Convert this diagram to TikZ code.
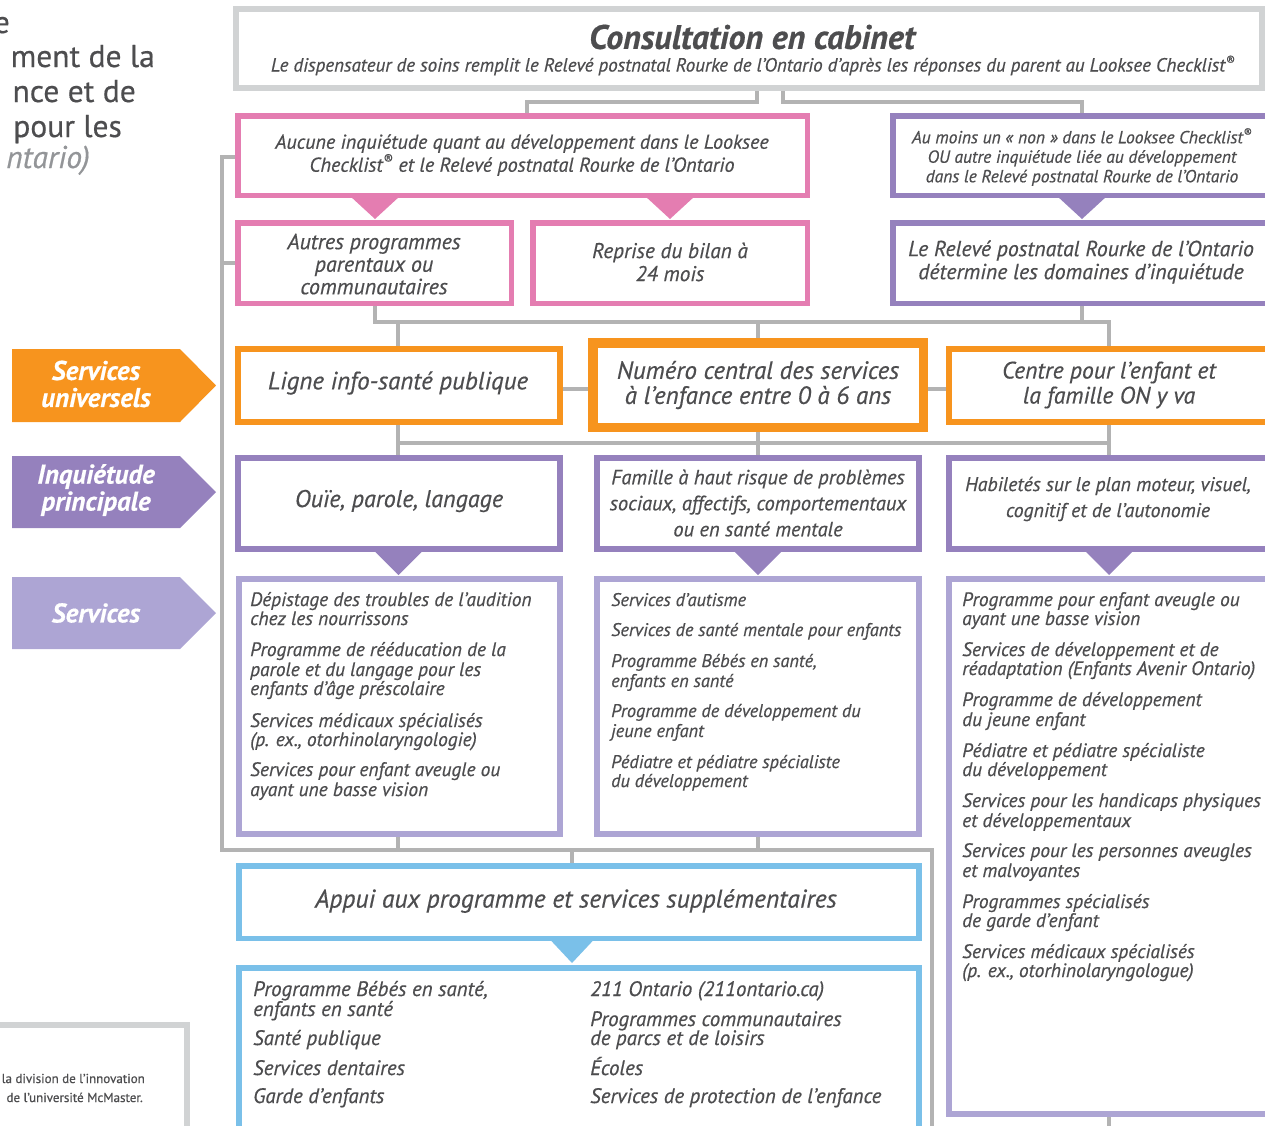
\documentclass[tikz,border=0pt]{standalone}
\usepackage{fontspec}
\setmainfont{PT Sans}[FakeBold=0.5]
\usetikzlibrary{calc}
\definecolor{txtc}{HTML}{4D4D4F}
\definecolor{pinkc}{HTML}{E47DB1}
\definecolor{purc}{HTML}{9581BD}
\definecolor{lpurc}{HTML}{ADA5D4}
\definecolor{orc}{HTML}{F7941E}
\definecolor{bluc}{HTML}{7AC0E9}
\definecolor{lineg}{HTML}{B3B3B3}
\definecolor{boxg}{HTML}{D1D3D4}
\definecolor{ltxt}{HTML}{939598}
\newcommand\myfs[2]{\fontsize{#1}{#2}\selectfont}
\tikzset{
  box/.style n args={2}{draw=#1, fill=white, rectangle, line width=#2pt, outer sep=#2pt/2, inner sep=0pt},
  conn/.style={draw=lineg, line width=3.5pt},
  tx/.style={text=txtc, align=center, inner sep=0pt},
  li/.style={text=txtc, anchor=mid west, inner sep=0pt, yshift=-3.5pt, font=\myfs{19.4}{21}\itshape},
  lab/.style={text=white, align=center, inner sep=0pt, font=\myfs{27}{27}\bfseries\itshape},
  big/.style={text=txtc, anchor=base east, inner sep=0pt, font=\myfs{31.5}{35}},
}
\begin{document}
\begin{tikzpicture}[x=1pt,y=-1pt]
\useasboundingbox (0,0) rectangle (1265,1125);
\clip (0,0) rectangle (1265,1125);

% top-left partial title
\node[big] (tl1) at (10,33) {e};
\node[big] (tl2) at (155,67) {ment de la};
\node[big] (tl3) at (136,102) {nce et de};
\node[big] (tl4) at (122,137) {pour les};
\node[big, text=ltxt, font=\myfs{31.5}{35}\itshape] (tl5) at (90,168) {ntario)};

% corner box
\node[box={boxg}{6}, minimum width=204pt, minimum height=112pt] (mcm) at (85,1081) {};
\node[text=txtc, anchor=base east, inner sep=0pt, font=\myfs{13}{14}] (mcm1) at (145,1083) {la division de l’innovation};
\node[text=txtc, anchor=base east, inner sep=0pt, font=\myfs{13}{14}] (mcm2) at (143,1102) {de l’université McMaster.};

% labels
\fill[orc] (12,349) -- (180,349) -- (216,385.5) -- (180,422) -- (12,422) -- cycle;
\node[lab] (lab1) at (96,384) {Services\\universels};
\fill[purc] (12,456) -- (180,456) -- (216,492) -- (180,528) -- (12,528) -- cycle;
\node[lab] (lab2) at (96,490) {Inquiétude\\principale};
\fill[lpurc] (12,577) -- (180,577) -- (216,613) -- (180,649) -- (12,649) -- cycle;
\node[lab] (lab3) at (96,613) {Services};

% boxes
\node[box={boxg}{6}, minimum width=1026pt, minimum height=79pt] (cons) at (749,48.5) {};
\node[box={pinkc}{5.5}, minimum width=569.5pt, minimum height=79.5pt] (pk1) at (522.5,155.5) {};
\node[box={pinkc}{5.5}, minimum width=273.5pt, minimum height=80.5pt] (pk2) at (374.5,263) {};
\node[box={pinkc}{5.5}, minimum width=274.5pt, minimum height=80.5pt] (pk3) at (670,263) {};
\node[box={purc}{5.5}, minimum width=379.5pt, minimum height=79.5pt] (pu1) at (1082.5,155.5) {};
\node[box={purc}{5.5}, minimum width=379.5pt, minimum height=80.5pt] (pu2) at (1082.5,263) {};
\node[box={orc}{6}, minimum width=321.5pt, minimum height=73pt] (o1) at (398.75,385.5) {};
\node[box={orc}{9.5}, minimum width=330.5pt, minimum height=84.5pt] (o2) at (758,385) {};
\node[box={orc}{6}, minimum width=328pt, minimum height=73pt] (o3) at (1113,385.5) {};
\node[box={purc}{6}, minimum width=321.5pt, minimum height=91pt] (r1) at (398.75,503.5) {};
\node[box={purc}{6}, minimum width=321.5pt, minimum height=91pt] (r2) at (757.75,503.5) {};
\node[box={purc}{6}, minimum width=328pt, minimum height=91pt] (r3) at (1113,503.5) {};
\node[box={lpurc}{6}, minimum width=320.5pt, minimum height=255pt] (s1) at (399.25,706.5) {};
\node[box={lpurc}{6}, minimum width=321.5pt, minimum height=255pt] (s2) at (757.75,706.5) {};
\node[box={lpurc}{6}, minimum width=328pt, minimum height=535pt] (s3) at (1113,846.5) {};
\node[box={bluc}{5.5}, minimum width=680pt, minimum height=72.5pt] (b1) at (578.75,902) {};
\node[box={bluc}{5.5}, minimum width=680pt, minimum height=170pt] (b2) at (578.75,1052.75) {};

% triangles
\fill[pinkc] (350,196) -- (400,196) -- (375,219) -- cycle;
\fill[pinkc] (645,196) -- (695,196) -- (670,219) -- cycle;
\fill[purc] (1057,196) -- (1107,196) -- (1082,219) -- cycle;
\fill[purc] (373.5,550) -- (423.5,550) -- (398.5,575) -- cycle;
\fill[purc] (733,550) -- (783,550) -- (758,575) -- cycle;
\fill[purc] (1084,550) -- (1134,550) -- (1109,575) -- cycle;
\fill[bluc] (549.5,939) -- (594.5,939) -- (572,963) -- cycle;

% junction coordinates
\coordinate (ja) at (757,102);
\coordinate (jb) at (527,102);
\coordinate (jc) at (783,102);
\coordinate (jd) at (1082,102);
\coordinate (ke) at (222,157);
\coordinate (kf) at (222,263);
\coordinate (kg) at (222,850);
\coordinate (kh) at (932,850);
\coordinate (ki) at (932,1130);
\coordinate (m1) at (375,322);
\coordinate (m2) at (1109,322);
\coordinate (m3) at (1082,322);
\coordinate (m4) at (398,322);
\coordinate (m5) at (758,322);
\coordinate (hz) at (760,389);
\coordinate (q1) at (398,443);
\coordinate (q2) at (1109,443);
\coordinate (q3) at (758,443);
\coordinate (u1) at (398,850);
\coordinate (u2) at (758,850);
\coordinate (u3) at (572,850);
\coordinate (v1) at (1109,1130);

% connectors
\draw[conn] (cons.south -| ja) -- (ja) -- (jb) -- (pk1.north -| jb);
\draw[conn] (cons.south -| jc) -- (jc) -- (jd) -- (pu1.north -| jd);
\draw[conn] (pk1.west |- ke) -- (ke) -- (kg) -- (kh) -- (ki);
\draw[conn] (pk2.west |- kf) -- (kf);
\draw[conn] (pk2.south -| m1) -- (m1) -- (m2) -- (o3.north -| m2);
\draw[conn] (pu2.south -| m3) -- (m3);
\draw[conn] (m4) -- (o1.north -| m4);
\draw[conn] (m5) -- (o2.north -| m5);
\draw[conn] (o1.east |- hz) -- (o2.west |- hz);
\draw[conn] (o2.east |- hz) -- (o3.west |- hz);
\draw[conn] (o1.south -| q1) -- (r1.north -| q1);
\draw[conn] (o2.south -| q3) -- (r2.north -| q3);
\draw[conn] (o3.south -| q2) -- (r3.north -| q2);
\draw[conn, line width=4pt] (q1) -- (q2);
\draw[conn] (s1.south -| u1) -- (u1);
\draw[conn] (s2.south -| u2) -- (u2);
\draw[conn] (u3) -- (b1.north -| u3);
\draw[conn] (s3.south -| v1) -- (v1);

% texts
\node[tx, font=\myfs{34}{36}\bfseries\itshape] (title) at (752,37) {Consultation en cabinet};
\node[tx, font=\myfs{19}{21}\itshape] (subt) at (753,65.5) {Le dispensateur de soins remplit le Relevé postnatal Rourke de l’Ontario d’après les réponses du parent au Looksee Checklist\textsuperscript{®}};
\node[tx, font=\myfs{20.1}{23}\itshape] (pk1t) at (522,155) {Aucune inquiétude quant au développement dans le Looksee\\Checklist\textsuperscript{®} et le Relevé postnatal Rourke de l’Ontario};
\node[tx, font=\myfs{22}{22.5}\itshape] (pk2t) at (374,264) {Autres programmes\\parentaux ou\\communautaires};
\node[tx, font=\myfs{21.3}{23}\itshape] (pk3t) at (670,262) {Reprise du bilan à\\24 mois};
\node[tx, font=\myfs{17.5}{19.5}\itshape] (pu1t) at (1082,157) {Au moins un «~non~» dans le Looksee Checklist\textsuperscript{®}\\OU autre inquiétude liée au développement\\dans le Relevé postnatal Rourke de l’Ontario};
\node[tx, font=\myfs{21.8}{23}\itshape] (pu2t) at (1081,262) {Le Relevé postnatal Rourke de l’Ontario\\détermine les domaines d’inquiétude};
\node[tx, font=\myfs{25}{25}\itshape] (o1t) at (398,383) {Ligne info-santé publique};
\node[tx, font=\myfs{25}{25}\itshape] (o2t) at (758,385) {Numéro central des services\\à l’enfance entre 0 à 6 ans};
\node[tx, font=\myfs{23.7}{25}\itshape] (o3t) at (1109,385) {Centre pour l’enfant et\\la famille ON y va};
\node[tx, font=\myfs{24.2}{25}\itshape] (r1t) at (399,501) {Ouïe, parole, langage};
\node[tx, font=\myfs{20.5}{26}\itshape] (r2t) at (758,503) {Famille à haut risque de problèmes\\sociaux, affectifs, comportementaux\\ou en santé mentale};
\node[tx, font=\myfs{19.8}{26}\itshape] (r3t) at (1108,499) {Habiletés sur le plan moteur, visuel,\\cognitif et de l’autonomie};
\node[tx, font=\myfs{25.6}{26}\itshape] (b1t) at (576,901) {Appui aux programme et services supplémentaires};

% lists
\foreach \t/\y [count=\i] in {{Dépistage des troubles de l’audition}/600, {chez les nourrissons}/619, {Programme de rééducation de la}/650, {parole et du langage pour les}/670, {enfants d’âge préscolaire}/689, {Services médicaux spécialisés}/721, {(p. ex., otorhinolaryngologie)}/740, {Services pour enfant aveugle ou}/770, {ayant une basse vision}/790}
  \node[li] (sa\i) at (250,\y) {\t};
\foreach \t/\y [count=\i] in {{Services d'autisme}/600, {Services de santé mentale pour enfants}/630, {Programme Bébés en santé,}/661, {enfants en santé}/681, {Programme de développement du}/711, {jeune enfant}/731, {Pédiatre et pédiatre spécialiste}/762, {du développement}/781}
  \node[li, font=\myfs{18.3}{20}\itshape] (sb\i) at (611,\y) {\t};
\foreach \t/\y [count=\i] in {{Programme pour enfant aveugle ou}/600, {ayant une basse vision}/619, {Services de développement et de}/650, {réadaptation (Enfants Avenir Ontario)}/669, {Programme de développement}/700, {du jeune enfant}/720, {Pédiatre et pédiatre spécialiste}/751, {du développement}/770, {Services pour les handicaps physiques}/801, {et développementaux}/821, {Services pour les personnes aveugles}/851, {et malvoyantes}/871, {Programmes spécialisés}/902, {de garde d’enfant}/921, {Services médicaux spécialisés}/952, {(p. ex., otorhinolaryngologue)}/971}
  \node[li] (sc\i) at (962,\y) {\t};
\foreach \t/\y [count=\i] in {{Programme Bébés en santé,}/990, {enfants en santé}/1010, {Santé publique}/1039, {Services dentaires}/1069, {Garde d’enfants}/1097}
  \node[li, font=\myfs{20.9}{22}\itshape] (ba\i) at (253,\y) {\t};
\foreach \t/\y [count=\i] in {{211 Ontario (211ontario.ca)}/990, {Programmes communautaires}/1020, {de parcs et de loisirs}/1039, {Écoles}/1069, {Services de protection de l’enfance}/1097}
  \node[li, font=\myfs{20.9}{22}\itshape] (bb\i) at (590,\y) {\t};
\end{tikzpicture}
\end{document}
